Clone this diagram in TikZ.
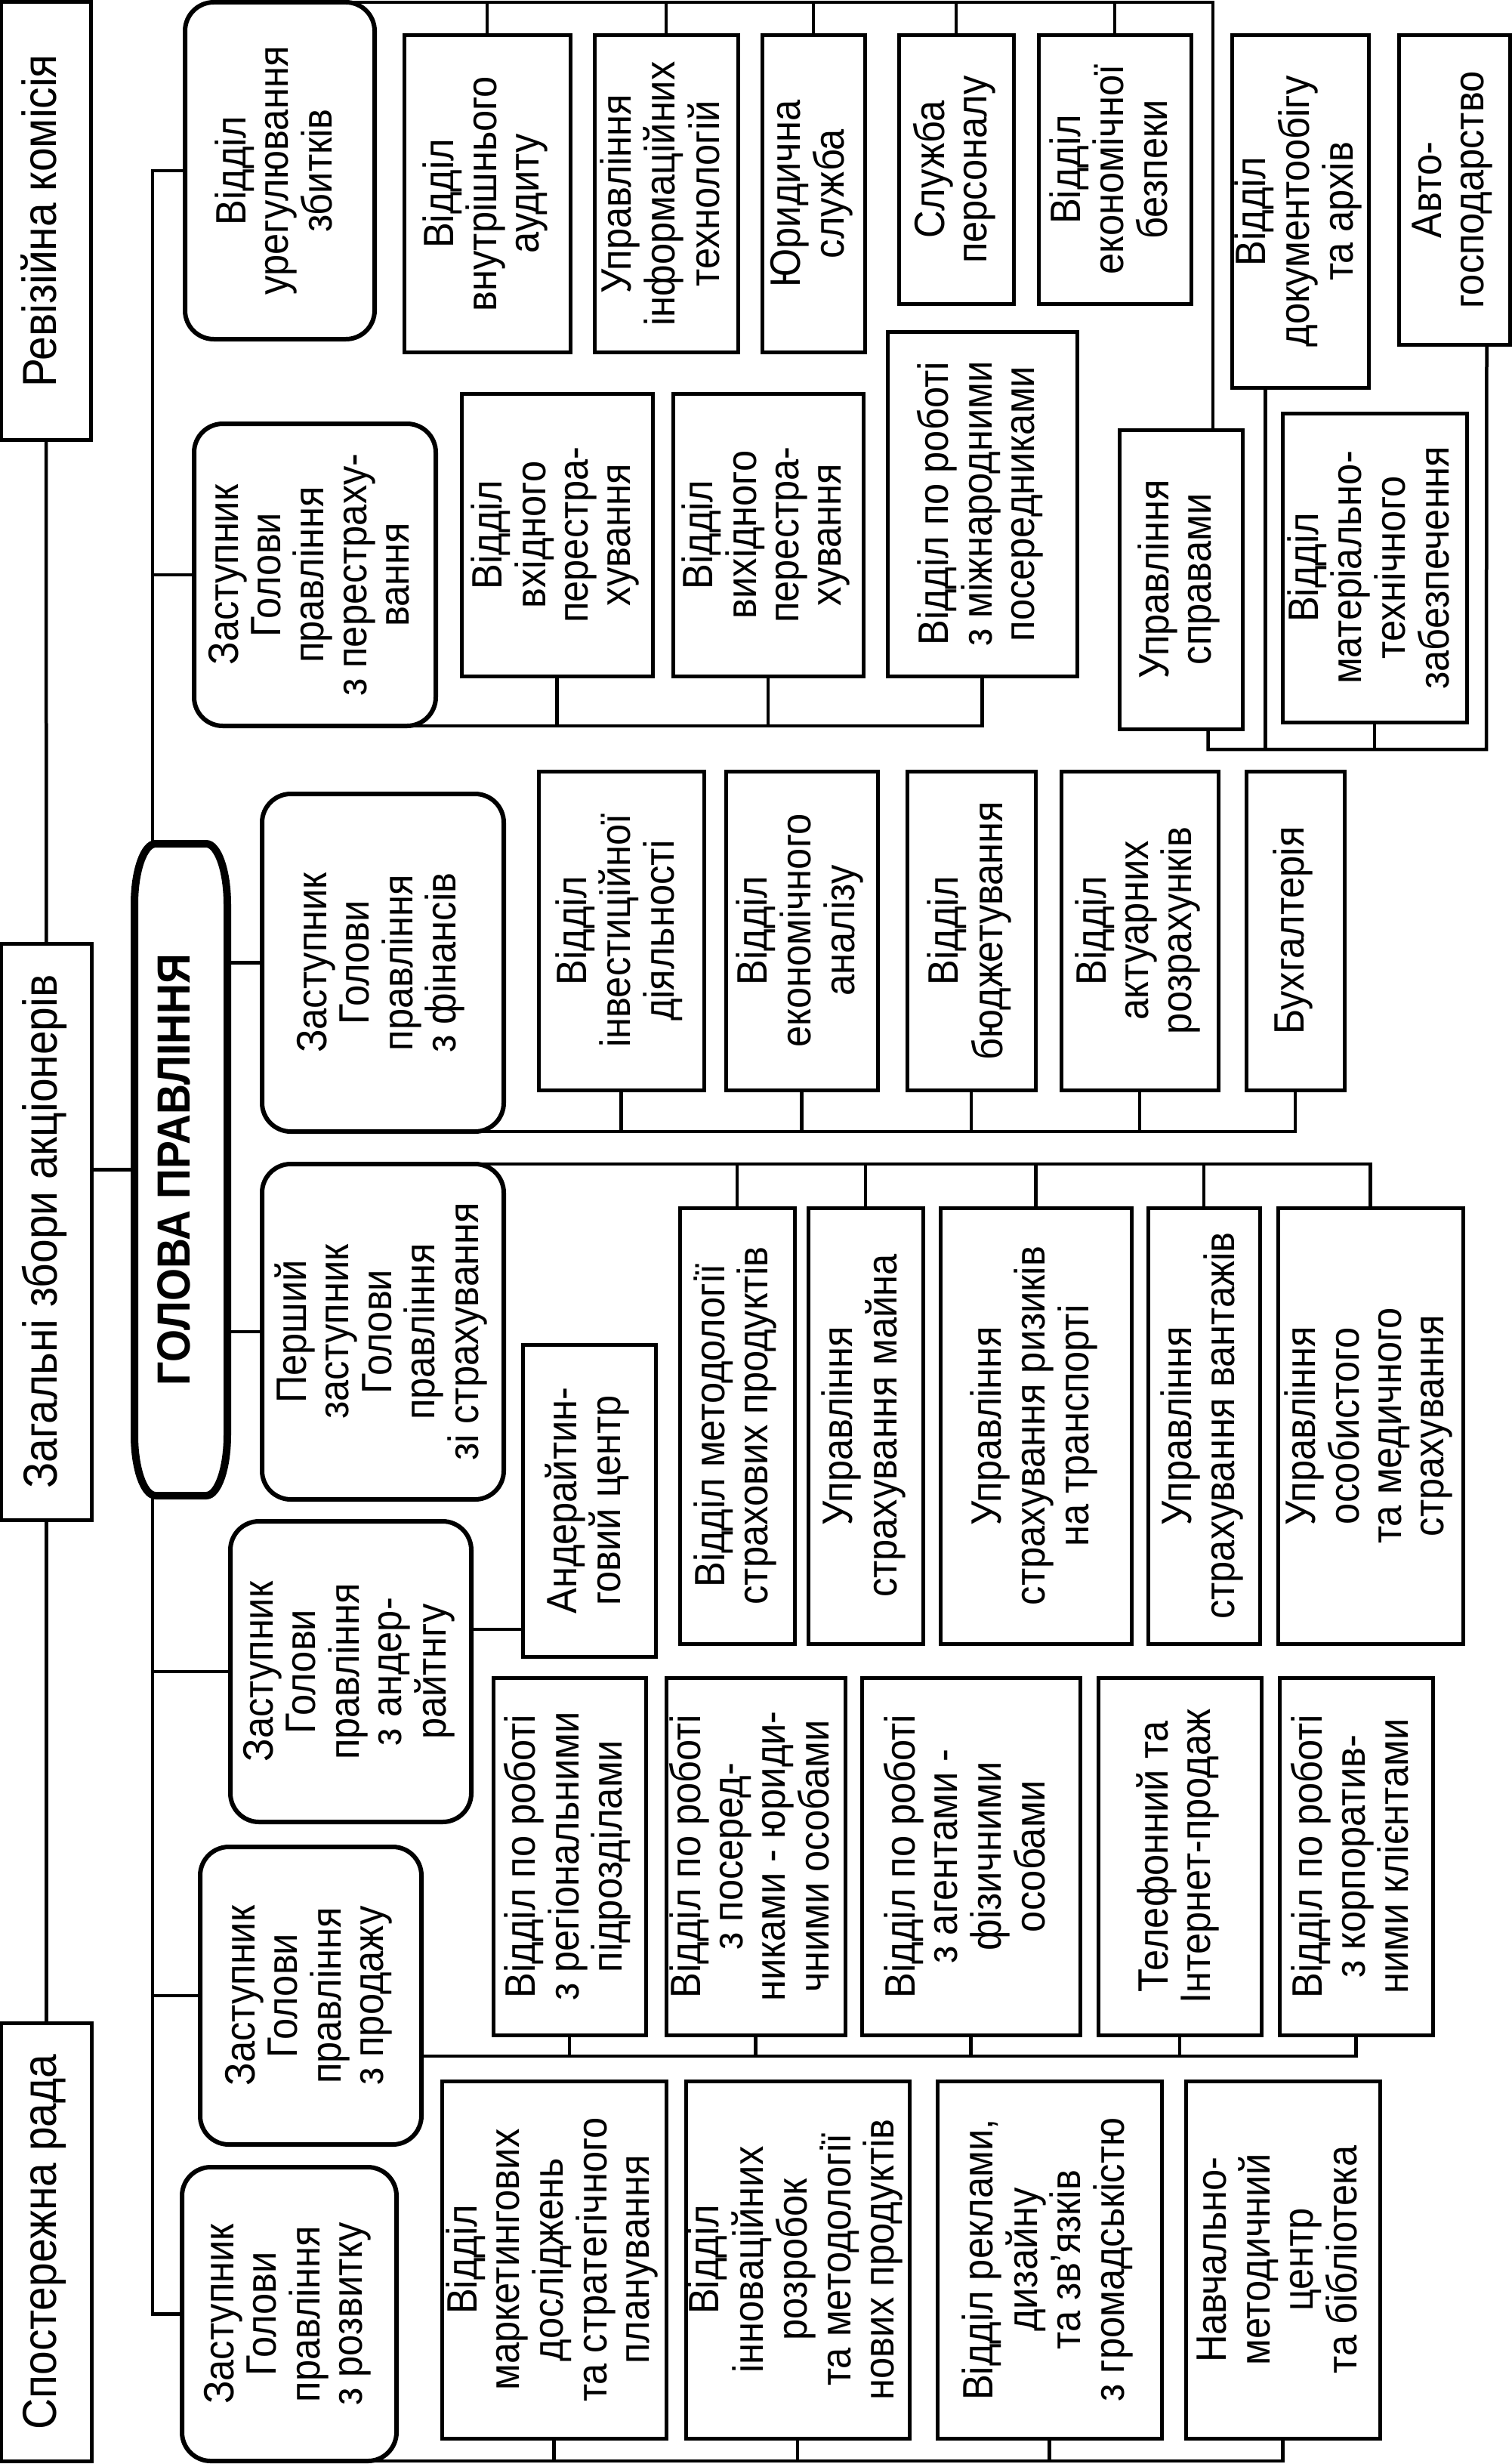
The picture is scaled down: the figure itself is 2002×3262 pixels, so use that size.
\documentclass[tikz,border=0pt]{standalone}
\usepackage{fontspec}
\setmainfont{Liberation Sans}[FakeStretch=0.9]
\usepackage{graphicx}
\newcommand{\vt}[1]{\rotatebox{90}{\begin{tabular}{@{}c@{}}#1\end{tabular}}}
\tikzset{
  unit/.style={draw, line width=0.5mm, inner sep=0pt, outer sep=0pt, font=\fontsize{16}{16}\selectfont},
  board/.style={unit, font=\fontsize{18}{18}\selectfont},
  deputy/.style={unit, line width=0.6mm, rounded corners=3.8mm},
  link/.style={line width=0.45mm},
}
\begin{document}
\begin{tikzpicture}[x=0.1mm, y=-0.1mm]
\fill[white] (0,0) rectangle (2002,3262);
\useasboundingbox (0,0) rectangle (2002,3262);

% governing bodies
\foreach \n/\xa/\ya/\xb/\yb/\t in {rev/2/3/120/582/{Ревізійна комісія},
    zag/2/1249/121/2012/{Загальні збори акціонерів},
    spo/2/2678/121/3258/{Спостережна рада}}
  \node[board, minimum width={(\xb-\xa)*0.1mm}, minimum height={(\yb-\ya)*0.1mm}] (\n) at ({(\xa+\xb)/2},{(\ya+\yb)/2}) {\vt{\t}};

% head of the board
\node[inner sep=0pt, outer sep=0pt, minimum width=12.3mm, minimum height=86.3mm, font=\fontsize{17.5}{17.5}\selectfont\bfseries] (g) at (239.5,1548.5) {\vt{ГОЛОВА ПРАВЛІННЯ}};
\draw[line width=1mm] ([yshift=-8mm]g.north west) .. controls ([yshift=-3.6mm]g.north west) and ([xshift=1.25mm]g.north west) .. ([xshift=2.8mm]g.north west)
  -- ([xshift=-2.8mm]g.north east) .. controls ([xshift=-1.25mm]g.north east) and ([yshift=-3.6mm]g.north east) .. ([yshift=-8mm]g.north east)
  -- ([yshift=8mm]g.south east) .. controls ([yshift=3.6mm]g.south east) and ([xshift=-1.25mm]g.south east) .. ([xshift=-2.8mm]g.south east)
  -- ([xshift=2.8mm]g.south west) .. controls ([xshift=1.25mm]g.south west) and ([yshift=3.6mm]g.south west) .. ([yshift=8mm]g.south west) -- cycle;

% deputies
\foreach \n/\xa/\ya/\xb/\yb/\t in {ureg/245/3/496/449/{Відділ\\урегулювання\\збитків},
    pere/257/561/577/961/{Заступник\\Голови\\правління\\з перестраху-\\вання},
    fin/347/1051/667/1498/{Заступник\\Голови\\правління\\з фінансів},
    first/347/1541/667/1985/{Перший\\заступник\\Голови\\правління\\зі страхування},
    und/305/2014/624/2412/{Заступник\\Голови\\правління\\з андер-\\райтнгу},
    sale/265/2445/558/2839/{Заступник\\Голови\\правління\\з продажу},
    dev/241/2869/525/3258/{Заступник\\Голови\\правління\\з розвитку}}
  \node[deputy, minimum width={(\xb-\xa)*0.1mm}, minimum height={(\yb-\ya)*0.1mm}] (\n) at ({(\xa+\xb)/2},{(\ya+\yb)/2}) {\vt{\t}};

% departments
\foreach \n/\xa/\ya/\xb/\yb/\t in {aud/535/47/755/466/{Відділ\\внутрішнього\\аудиту},
    it/787/47/977/466/{Управління\\інформаційних\\технологій},
    law/1009/47/1145/466/{Юридична\\служба},
    hr/1190/47/1342/402/{Служба\\персоналу},
    sec/1375/47/1577/402/{Відділ\\економічної\\безпеки},
    spr/1482/569/1645/965/{Управління\\справами},
    doc/1631/47/1812/513/{Відділ\\документообігу\\та архів},
    auto/1852/47/1999/456/{Авто-\\господарство},
    mat/1698/547/1942/956/{Відділ\\матеріально-\\технічного\\забезпечення},
    vin/611/521/864/895/{Відділ\\вхідного\\перестра-\\хування},
    vyh/891/521/1143/895/{Відділ\\вихідного\\перестра-\\хування},
    mizh/1175/439/1426/895/{Відділ по роботі\\з міжнародними\\посередниками},
    inv/713/1021/932/1443/{Відділ\\інвестиційної\\діяльності},
    eco/961/1021/1162/1443/{Відділ\\економічного\\аналізу},
    bud/1201/1021/1371/1443/{Відділ\\бюджетування},
    act/1405/1021/1613/1443/{Відділ\\актуарних\\розрахунків},
    buh/1650/1021/1780/1443/{Бухгалтерія},
    met/900/1599/1052/2176/{Відділ методології\\страхових продуктів},
    mayn/1070/1599/1222/2176/{Управління\\страхування майна},
    tran/1245/1599/1498/2176/{Управління\\страхування ризиків\\на транспорті},
    vant/1520/1599/1668/2176/{Управління\\страхування вантажів},
    osob/1692/1599/1937/2176/{Управління\\особистого\\та медичного\\страхування},
    centr/692/1780/868/2193/{Андерайтин-\\говий центр},
    reg/653/2221/855/2694/{Відділ по роботі\\з регіональними\\підрозділами},
    yur/882/2221/1119/2694/{Відділ по роботі\\з посеред-\\никами - юриди-\\чними особами},
    fiz/1141/2221/1430/2694/{Відділ по роботі\\з агентами -\\фізичними\\особами},
    tel/1454/2221/1670/2694/{Телефонний та\\Інтернет-продаж},
    korp/1694/2221/1897/2694/{Відділ по роботі\\з корпоратив-\\ними клієнтами},
    mark/585/2755/882/3228/{Відділ\\маркетингових\\досліджень\\та стратегічного\\планування},
    inn/908/2755/1204/3228/{Відділ\\інноваційних\\розробок\\та методології\\нових продуктів},
    rekl/1241/2755/1538/3228/{Відділ реклами,\\дизайну\\та зв'язків\\з громадськістю},
    navch/1570/2755/1827/3228/{Навчально-\\методичний\\центр\\та бібліотека}}
  \node[unit, minimum width={(\xb-\xa)*0.1mm}, minimum height={(\yb-\ya)*0.1mm}] (\n) at ({(\xa+\xb)/2},{(\ya+\yb)/2}) {\vt{\t}};

% governing bodies to the head
\draw[link] (rev) -- (zag);
\draw[link] (zag) -- (spo);
\draw[link] (zag.east |- g.west) -- (g.west);

% main bus
\coordinate (bus) at ([xshift=2.4mm]g.south west);
\draw[link] (ureg.west) -| ([xshift=2.4mm]g.north west);
\draw[link] (pere.west) -- (pere.west -| bus);
\draw[link] (bus) |- (dev.west);
\draw[link] (und.west) -- (und.west -| bus);
\draw[link] (sale.west) -- (sale.west -| bus);
\draw[link] (g.east |- fin.west) -- (fin.west);
\draw[link] (g.east |- first.west) -- (first.west);

% top row
\draw[link] (ureg.north) -| ([xshift=4.25mm]spr.north);
\foreach \n in {aud,it,law,hr,sec}
  \draw[link] (\n.north) -- (\n.north |- ureg.north);

% administration
\coordinate (adm) at (1968,992);
\coordinate (dc) at ([xshift=-4.6mm]doc.south);
\draw[link] ([xshift=3.6mm]spr.south) |- (adm) -- ([xshift=4.3mm]auto.south);
\draw[link] (dc) -- (dc |- adm);
\draw[link] (mat.south) -- (mat.south |- adm);

% reinsurance
\draw[link] (pere.south) -| (mizh.south);
\foreach \n in {vin,vyh}
  \draw[link] (\n.south) -- (\n.south |- pere.south);

% finance
\draw[link] (fin.south) -| (buh.south);
\foreach \n in {inv,eco,bud,act}
  \draw[link] (\n.south) -- (\n.south |- fin.south);

% insurance
\draw[link] (first.north) -| (osob.north);
\foreach \n in {met,mayn,tran,vant}
  \draw[link] (\n.north) -- (\n.north |- first.north);

% underwriting
\coordinate (uw) at ([yshift=5.6mm]und.east);
\draw[link] (uw) -- (uw -| centr.west);

% sales
\coordinate (sl) at ([yshift=-8mm]sale.east);
\draw[link] (sl) -| (korp.south);
\foreach \n in {reg,yur,fiz,tel}
  \draw[link] (\n.south) -- (\n.south |- sl);

% development
\draw[link] (dev.south) -| (navch.south);
\foreach \n in {mark,inn,rekl}
  \draw[link] (\n.south) -- (\n.south |- dev.south);
\end{tikzpicture}
\end{document}
